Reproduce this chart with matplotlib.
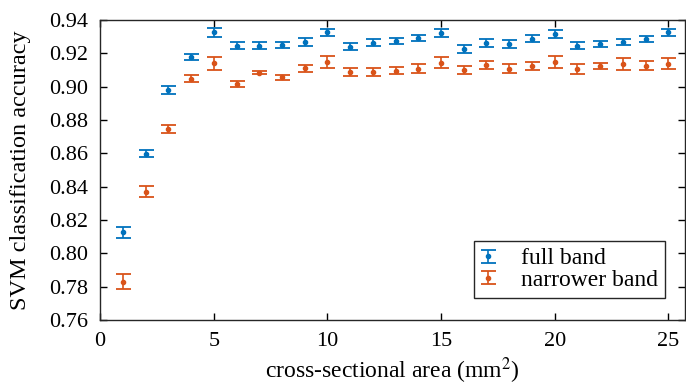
import matplotlib.pyplot as plt
from matplotlib.legend_handler import HandlerErrorbar
import numpy as np

plt.rcParams['font.family'] = ['Liberation Serif', 'DejaVu Serif']
plt.rcParams['mathtext.fontset'] = 'stix'

area = np.arange(1, 26)

full_acc = [0.8126, 0.8598, 0.8981, 0.9178, 0.9326, 0.9246, 0.9246, 0.9250, 0.9270, 0.9326,
            0.9240, 0.9264, 0.9276, 0.9292, 0.9322, 0.9226, 0.9262, 0.9258, 0.9288, 0.9318,
            0.9246, 0.9258, 0.9266, 0.9286, 0.9326]
full_err = [0.0034, 0.0020, 0.0024, 0.0020, 0.0025, 0.0020, 0.0022, 0.0020, 0.0025, 0.0022,
            0.0020, 0.0021, 0.0019, 0.0020, 0.0025, 0.0022, 0.0022, 0.0024, 0.0022, 0.0023,
            0.0020, 0.0017, 0.0018, 0.0018, 0.0022]

narrow_acc = [0.7828, 0.8370, 0.8745, 0.9049, 0.9140, 0.9017, 0.9083, 0.9057, 0.9110, 0.9149,
              0.9089, 0.9088, 0.9097, 0.9108, 0.9144, 0.9099, 0.9129, 0.9107, 0.9125, 0.9150,
              0.9105, 0.9123, 0.9137, 0.9125, 0.9138]
narrow_err = [0.0045, 0.0032, 0.0024, 0.0023, 0.0039, 0.0019, 0.0009, 0.0015, 0.0023, 0.0035,
              0.0025, 0.0025, 0.0020, 0.0026, 0.0034, 0.0025, 0.0024, 0.0027, 0.0023, 0.0037,
              0.0029, 0.0019, 0.0035, 0.0027, 0.0033]

fig = plt.figure(figsize=(6.86, 3.85), dpi=100)
ax = fig.add_axes([0.146, 0.169, 0.853, 0.779])

ax.errorbar(area, full_acc, yerr=full_err, fmt='o', color='#0072BD', markersize=3,
            capsize=5.4, elinewidth=1.2, capthick=1.3, label='full band')
ax.errorbar(area, narrow_acc, yerr=narrow_err, fmt='o', color='#D95319', markersize=3,
            capsize=5.4, elinewidth=1.2, capthick=1.3, label='narrower band')

ax.set_xlim(0, 25.75)
ax.set_ylim(0.76, 0.94)
ax.set_xticks([0, 5, 10, 15, 20, 25])
yt = np.arange(0.76, 0.9401, 0.02)
ax.set_yticks(yt)
ax.set_yticklabels(['%.2f' % v for v in yt])
ax.tick_params(direction='in', top=True, right=True, labelsize=16, length=5, width=1)
ax.tick_params(axis='y', pad=9)
ax.tick_params(axis='x', pad=9)
for s in ax.spines.values():
    s.set_linewidth(1)
    s.set_color('#262626')

ax.set_xlabel('cross-sectional area (mm$^2$)', fontsize=17, labelpad=3)
ax.set_ylabel('SVM classification accuracy', fontsize=17.5, labelpad=13)

leg = ax.legend(loc='lower right', bbox_to_anchor=(0.966, 0.073), borderaxespad=0,
                fontsize=17, fancybox=False, edgecolor='#262626', framealpha=1,
                handlelength=0.6, handletextpad=1.1, borderpad=0.3, labelspacing=0.0,
                handler_map={type(ax.containers[0]): HandlerErrorbar(yerr_size=0.28)})
leg.get_frame().set_linewidth(1)

fig.savefig('out.png', dpi=100)
